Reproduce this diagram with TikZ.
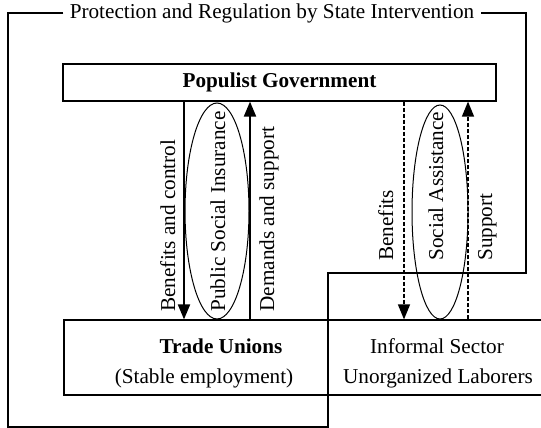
\documentclass[tikz,border=0pt]{standalone}
\usepackage{fontspec}
\setmainfont{Liberation Serif}
\usetikzlibrary{arrows.meta,shapes.geometric}
\begin{document}
\begin{tikzpicture}[x=0.5pt,y=-0.5pt,
        font=\fontsize{10.6}{12.7}\selectfont,
        box/.style={draw,line width=0.6pt,inner sep=0pt},
        flow/.style={line width=1pt,-{Triangle[length=7.5pt,width=6pt]}},
        weakflow/.style={line width=0.7pt,dash pattern=on 2pt off 1pt,-{Triangle[length=7.5pt,width=6pt]}},
        scheme/.style={draw,ellipse,line width=0.5pt,inner sep=0pt},
        vlabel/.style={rotate=90,anchor=base west,inner sep=0pt}]
            \useasboundingbox (0,0) rectangle (541,428);
            % state frame
            \node[inner xsep=3pt] (title) at (272,13) {Protection and Regulation by State Intervention};
            \draw[line width=0.6pt] (title.west) -- (8,13) -- (8,427) -- (328,427) -- (328,273) -- (526,273) -- (526,13) -- (title.east);
            % actors
            \node[box,minimum width=216.5pt,minimum height=18.5pt,font=\fontsize{10.6}{12.7}\selectfont\bfseries] (gov) at (279.5,82.5) {Populist Government};
            \node[box,minimum width=132pt,minimum height=37.5pt] (tu) at (196,357.5) {};
            \node[box,minimum width=110pt,minimum height=37.5pt] (inf) at (438,357.5) {};
            \node[anchor=base,font=\fontsize{10.6}{12.7}\selectfont\bfseries] (tuname) at (221,353) {Trade Unions};
            \node[anchor=base] (tuemp) at (204,383) {(Stable employment)};
            \node[anchor=base] (infname) at (437,353) {Informal Sector};
            \node[anchor=base] (inflab) at (438,383) {Unorganized Laborers};
            % exchanges
            \coordinate (bc) at (184,0);
            \coordinate (ds) at (250,0);
            \coordinate (bf) at (404,0);
            \coordinate (sp) at (468,0);
            \draw[flow] (gov.south -| bc) -- (tu.north -| bc);
            \draw[flow] (tu.north -| ds) -- (gov.south -| ds);
            \draw[weakflow] (gov.south -| bf) -- (inf.north -| bf);
            \draw[weakflow] (inf.north -| sp) -- (gov.south -| sp);
            \node[scheme,minimum width=32pt,minimum height=108pt] (psi) at (217,211) {};
            \node[scheme,minimum width=28pt,minimum height=107pt] (sa) at (440,212) {};
            \node[vlabel] (bclabel) at (175,312) {Benefits and control};
            \node[vlabel] (psilabel) at (225,312) {Public Social Insurance};
            \node[vlabel] (dslabel) at (274,312) {Demands and support};
            \node[vlabel] (bflabel) at (393,261) {Benefits};
            \node[vlabel] (salabel) at (443,261) {Social Assistance};
            \node[vlabel] (splabel) at (492,261) {Support};
\end{tikzpicture}
\end{document}
